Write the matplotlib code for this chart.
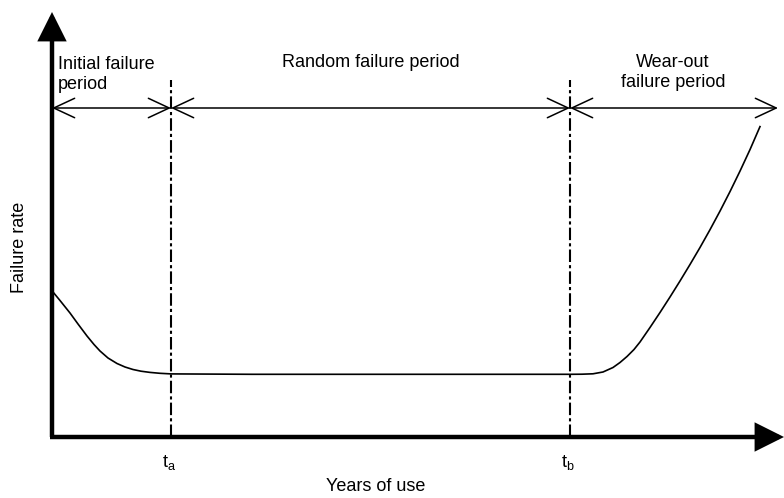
import numpy as np
import matplotlib
matplotlib.use("Agg")
import matplotlib.pyplot as plt
from matplotlib.patches import FancyArrowPatch

plt.rcParams['font.family'] = ['Liberation Sans', 'DejaVu Sans']

# ---- data (arbitrary units: x = years of use, y = failure rate) ----
t_a = 119.0
t_b = 518.0
x_axis_end = 732.0
y_axis_end = 425.0
period_arrow_y = 329.0
period_arrow_end = 726.0
divider_top = 357.0

curve_x = [1, 8, 18, 26, 35, 42, 48, 56, 65, 73, 81, 89, 98, 108, 119,
           200, 300, 400, 518, 530, 541, 551, 561, 568, 575, 582, 588, 598,
           608, 618, 628, 638, 648, 658, 668, 678, 688, 698, 708]
curve_y = [145, 136.5, 124, 113, 101, 92.5, 86, 79, 73.5, 70, 67.5, 65.8,
           64.6, 63.7, 63.1, 62.7, 62.7, 62.7, 62.7, 62.8, 63.2, 65, 69.5,
           74.5, 80.5, 87.5, 95, 109.5, 124.5, 140, 156, 172.5, 189.5,
           207.3, 225.9, 245.4, 265.9, 287.4, 310.4]

period_labels = ["Initial failure\nperiod", "Random failure period",
                 "Wear-out\nfailure period"]
tick_labels = [r"$\mathregular{t_a}$", r"$\mathregular{t_b}$"]
x_label = "Years of use"
y_label = "Failure rate"

# ---- figure ----
fig = plt.figure(figsize=(7.84, 4.98), dpi=100)
ax = fig.add_axes([0, 0, 1, 1])
ax.set_xlim(-52, 732)
ax.set_ylim(-61, 437)
ax.axis('off')

# main axes arrows
for (x0, y0, x1, y1) in [(0, 0, x_axis_end, 0), (0, 0, 0, y_axis_end)]:
    ax.add_patch(FancyArrowPatch((x0, y0), (x1, y1),
                                 arrowstyle='-|>,head_length=16,head_width=8',
                                 mutation_scale=1, lw=3.2, color='black',
                                 shrinkA=0, shrinkB=0, capstyle='butt',
                                 joinstyle='miter', zorder=3))
ax.plot([-1.5, 0], [0, 0], color='black', lw=3.2, solid_capstyle='butt')

# dash-dot dividers
for tx in (t_a, t_b):
    ax.plot([tx, tx], [0, divider_top], color='black', lw=1.5,
            dashes=(6, 1.5, 1.5, 1.5))

# period double arrows
bounds = [0, t_a, t_b, period_arrow_end]
for i in range(3):
    ax.add_patch(FancyArrowPatch((bounds[i], period_arrow_y),
                                 (bounds[i + 1], period_arrow_y),
                                 arrowstyle='<->,head_length=15,head_width=7',
                                 mutation_scale=1, lw=1.1, color='black',
                                 shrinkA=0, shrinkB=0, zorder=2))

# bathtub curve
ax.plot(curve_x, curve_y, color='black', lw=1.2, solid_joinstyle='round')

# period labels
fs = 13
ax.text(6, 348, period_labels[0], fontsize=fs, ha='left', va='baseline')
ax.text(319, 370, period_labels[1], fontsize=fs, ha='center', va='baseline')
ax.text(621, 350, period_labels[2], fontsize=fs, ha='center', va='baseline',
        multialignment='center')

# tick labels
for tx, lab in zip((t_a, t_b), tick_labels):
    ax.text(tx - 2, -30, lab, fontsize=fs, ha='center', va='baseline')

ax.text(324, -54, x_label, fontsize=fs, ha='center', va='baseline')
ax.text(-32, 190, y_label, fontsize=fs, ha='center', va='center',
        rotation=90)

fig.savefig('out.png', dpi=100)
